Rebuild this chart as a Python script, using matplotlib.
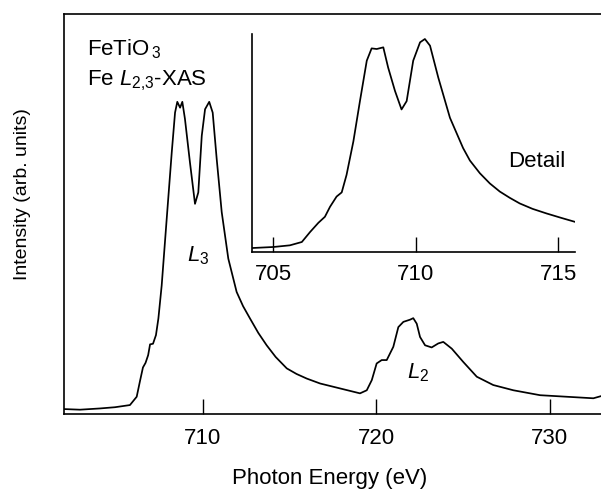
import numpy as np
import matplotlib
matplotlib.use("Agg")
import matplotlib.pyplot as plt

plt.rcParams['font.family'] = ['Liberation Sans', 'DejaVu Sans']
plt.rcParams['mathtext.fontset'] = 'custom'
plt.rcParams['mathtext.rm'] = 'Liberation Sans'
plt.rcParams['mathtext.it'] = 'Liberation Sans:italic'

# Fe L2,3 XAS spectrum (normalised to peak = 1)
main_energy = [702.00, 702.92, 704.07, 704.94, 705.80, 706.19, 706.38, 706.55, 706.70,
               706.85, 706.96, 707.13, 707.30, 707.44, 707.63, 707.92, 708.21, 708.40,
               708.53, 708.69, 708.82, 708.97, 709.26, 709.55, 709.74, 709.94, 710.13,
               710.37, 710.57, 710.80, 711.09, 711.47, 711.95, 712.32, 712.72, 713.20,
               713.68, 714.20, 714.84, 715.40, 715.99, 716.76, 717.91, 719.06, 719.45,
               719.74, 720.02, 720.31, 720.60, 720.98, 721.27, 721.56, 721.94, 722.13,
               722.33, 722.52, 722.81, 723.19, 723.57, 723.86, 724.35, 725.01, 725.79,
               726.74, 727.90, 729.44, 730.97, 732.51, 732.95]
main_intensity = [0.000, -0.002, 0.002, 0.006, 0.013, 0.040, 0.091, 0.135, 0.150,
                  0.175, 0.210, 0.212, 0.240, 0.294, 0.401, 0.618, 0.833, 0.962,
                  0.997, 0.978, 0.997, 0.942, 0.800, 0.666, 0.703, 0.887, 0.973,
                  0.997, 0.962, 0.812, 0.639, 0.488, 0.380, 0.334, 0.294, 0.247,
                  0.207, 0.169, 0.132, 0.114, 0.099, 0.083, 0.067, 0.051, 0.061,
                  0.094, 0.148, 0.159, 0.159, 0.202, 0.266, 0.283, 0.290, 0.295,
                  0.277, 0.234, 0.207, 0.200, 0.213, 0.218, 0.196, 0.153, 0.105,
                  0.078, 0.061, 0.045, 0.040, 0.035, 0.042]

# L3 edge detail (inset)
inset_energy = [704.24, 705.00, 705.58, 706.00, 706.29, 706.58, 706.81, 706.99, 707.22,
                707.40, 707.57, 707.81, 708.04, 708.28, 708.45, 708.63, 708.86, 709.03,
                709.27, 709.50, 709.68, 709.91, 710.15, 710.32, 710.50, 710.79, 711.20,
                711.66, 711.90, 712.25, 712.60, 712.95, 713.30, 713.65, 714.10, 714.59,
                715.10, 715.58]
inset_intensity = [-0.005, 0.000, 0.008, 0.024, 0.072, 0.116, 0.145, 0.193, 0.242,
                   0.262, 0.346, 0.507, 0.700, 0.894, 0.953, 0.950, 0.958, 0.861,
                   0.749, 0.660, 0.700, 0.894, 0.982, 0.998, 0.966, 0.813, 0.620,
                   0.475, 0.415, 0.354, 0.305, 0.266, 0.236, 0.209, 0.183, 0.161,
                   0.140, 0.121]

main_ticks = [710, 720, 730]
inset_ticks = [705, 710, 715]

fig = plt.figure(figsize=(6.01, 4.90), dpi=100)

# main panel (cut at the right edge like the original)
ax = fig.add_axes([64 / 601, 1 - 414 / 490, 1 - 64 / 601, 400 / 490])
ax.plot(main_energy, main_intensity, color='black', lw=1.25)
ax.set_xlim(702.0, 732.95)
ax.set_ylim(-0.016, 1.282)
ax.set_xticks(main_ticks)
ax.set_yticks([])
ax.spines['right'].set_visible(False)
for s in ['left', 'bottom', 'top']:
    ax.spines[s].set_linewidth(1.2)
ax.tick_params(axis='x', direction='in', length=10.8, width=1.0, pad=10, labelsize=16)

ax.text(0.043, 0.8975, r"FeTiO$_{\,3}$", transform=ax.transAxes, fontsize=16,
        ha='left', va='baseline')
ax.text(0.043, 0.8225, r"Fe $L_{2{,}3}$-XAS", transform=ax.transAxes, fontsize=16,
        ha='left', va='baseline')
ax.text(709.1, 0.48, r"$L_3$", fontsize=16, ha='left', va='baseline')
ax.text(721.75, 0.10, r"$L_2$", fontsize=16, ha='left', va='baseline')

fig.text(23 / 601, 1 - 194 / 490, "Intensity (arb. units)", rotation=90,
         fontsize=14, ha='center', va='center')
fig.text(330 / 601, 1 - 478 / 490, "Photon Energy (eV)", fontsize=16,
         ha='center', va='center')

# inset
axi = fig.add_axes([251.7 / 601, 1 - 252 / 490, (575 - 251.7) / 601, 218 / 490])
axi.plot(inset_energy, inset_intensity, color='black', lw=1.25)
axi.set_xlim(704.24, 715.59)
axi.set_ylim(-0.024, 1.022)
axi.set_xticks(inset_ticks)
axi.set_yticks([])
axi.spines['right'].set_visible(False)
axi.spines['top'].set_visible(False)
for s in ['left', 'bottom']:
    axi.spines[s].set_linewidth(1.2)
axi.tick_params(axis='x', direction='in', length=10.8, width=1.0, pad=9, labelsize=16)
axi.patch.set_alpha(0)
axi.text(713.23, 0.384, "Detail", fontsize=16, ha='left', va='baseline')

fig.savefig("out.png", dpi=100)
